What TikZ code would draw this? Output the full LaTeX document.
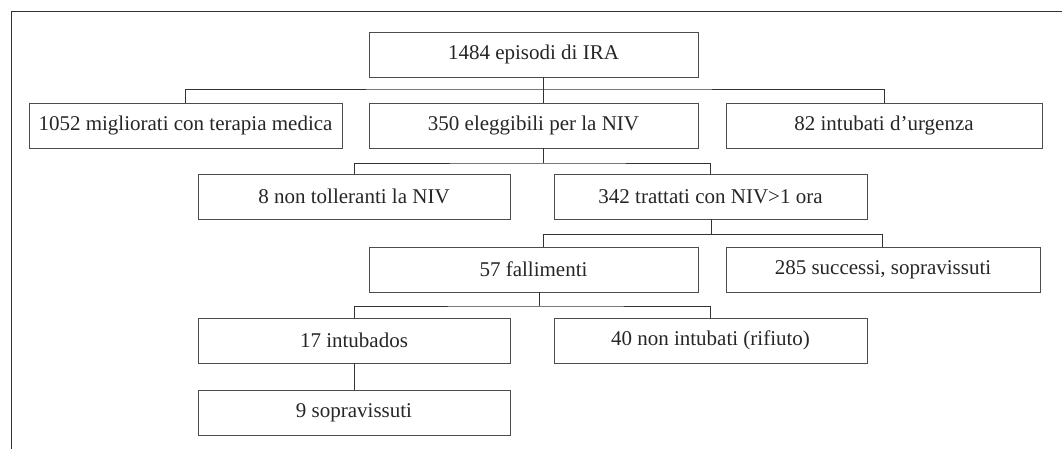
\documentclass[tikz,border=0pt]{standalone}
\usepackage{fontspec}
\setmainfont{Liberation Serif}
\begin{document}
\begin{tikzpicture}[x=1pt,y=-1pt,
  box/.style={draw=black!70,line width=0.9pt,minimum height=45pt,inner sep=0pt,outer sep=0pt,
    font=\fontsize{21}{24}\selectfont,text=black!85},
  conn/.style={draw=black!80,line width=0.9pt}]
\useasboundingbox (0,0) rectangle (1062,449);
\draw[conn] (1062,11) -- (11,11) -- (11,449);
% nodes
\node[box,minimum width=329pt] (top) at (533.5,54.5) {1484 episodi di IRA};
\node[box,minimum width=313pt] (m1052) at (185.5,125.5) {1052 migliorati con terapia medica};
\node[box,minimum width=329pt] (e350) at (533.5,125.5) {350 eleggibili per la NIV};
\node[box,minimum width=316pt] (i82) at (884,125.5) {82 intubati d’urgenza};
\node[box,minimum width=312pt] (n8) at (354,196.5) {8 non tolleranti la NIV};
\node[box,minimum width=313pt] (t342) at (710.5,196.5) {342 trattati con NIV>1 ora};
\node[box,minimum width=329pt] (f57) at (533.5,269.5) {57 fallimenti};
\node[box,minimum width=314pt] (s285) at (883,269.5) {285 successi, sopravissuti};
\node[box,minimum width=312pt] (i17) at (354,340.5) {17 intubados};
\node[box,minimum width=313pt] (n40) at (710.5,340.5) {40 non intubati (rifiuto)};
\node[box,minimum width=312pt] (s9) at (354,412.5) {9 sopravissuti};
% junctions
\coordinate (j1) at (543,89);
\coordinate (j2) at (543,163);
\coordinate (j3) at (711,234);
\coordinate (j4) at (539,306);
\coordinate (j3a) at (543,234);
\coordinate (j3b) at (882,234);
% connectors
\draw[conn] (top.south -| j1) -- (j1);
\draw[conn] (m1052.north) |- (j1) -| (i82.north);
\draw[conn] (j1) -- (e350.north -| j1);
\draw[conn] (e350.south -| j2) -- (j2);
\draw[conn] (n8.north) |- (j2) -| (t342.north);
\draw[conn] (t342.south -| j3) -- (j3);
\draw[conn] (j3a) -- (j3b);
\draw[conn] (j3a) -- (f57.north -| j3a);
\draw[conn] (j3b) -- (s285.north -| j3b);
\draw[conn] (f57.south -| j4) -- (j4);
\draw[conn] (i17.north) |- (j4) -| (n40.north);
\draw[conn] (i17) -- (s9);
\end{tikzpicture}
\end{document}
